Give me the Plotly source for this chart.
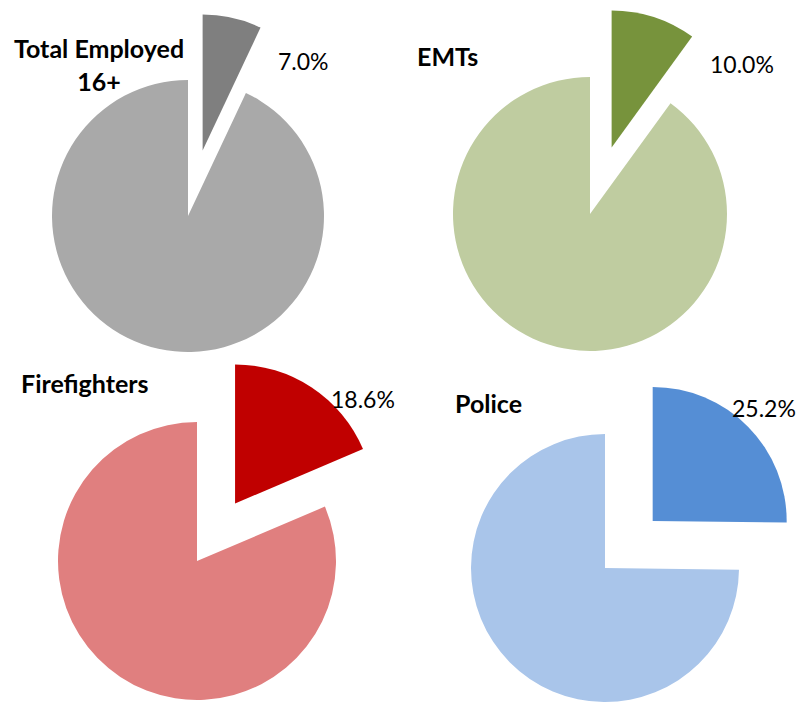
import math
import plotly.graph_objects as go

# ---- data ----
titles = ["Total Employed<br>16+", "EMTs", "Firefighters", "Police"]
share = [7.0, 10.0, 18.6, 25.2]          # highlighted slice (%)
rest = [93.0, 90.0, 81.4, 74.8]          # remainder (%)
dark_colors = ["#7f7f7f", "#77933c", "#c00000", "#558ed5"]
light_colors = ["#a9a9a9", "#bfcca0", "#e07f7f", "#a9c5ea"]

# ---- layout geometry (screen pixels) ----
W, H = 805, 702
OFF = 8  # page body margin
centers = [(188, 216), (590, 214), (197, 561), (605, 568)]
radii = [136, 137, 139, 134]
pull_px = [67, 70, 69, 67]
title_pos = [(99, 64), (447, 56), (85, 383), (488, 403)]
label_pos = [(303, 61), (742, 64), (363, 399), (764, 408)]

FONT = "Lato"
CLEAR = "rgba(0,0,0,0)"


def dom(cx, cy, r):
    cx -= OFF
    cy -= OFF
    return dict(x=[max(0, (cx - r) / W), min(1, (cx + r) / W)],
                y=[max(0, 1 - (cy + r) / H), min(1, 1 - (cy - r) / H)])


fig = go.Figure()
for i in range(4):
    cx, cy = centers[i]
    r = radii[i]
    vals = [share[i], rest[i]]
    common = dict(values=vals, labels=["share", "rest"], sort=False,
                  direction="clockwise", rotation=0, textinfo="none",
                  showlegend=False, hoverinfo="skip")
    # base pie (remainder)
    fig.add_trace(go.Pie(domain=dom(cx, cy, r),
                         marker=dict(colors=[CLEAR, light_colors[i]], line=dict(width=0)),
                         **common))
    # exploded slice, shifted along its bisector
    half = share[i] / sum(vals) * math.pi  # half angle in radians
    dx = pull_px[i] * math.sin(half)
    dy = -pull_px[i] * math.cos(half)
    fig.add_trace(go.Pie(domain=dom(cx + dx, cy + dy, r),
                         marker=dict(colors=[dark_colors[i], CLEAR], line=dict(width=0)),
                         **common))

annotations = []
for i in range(4):
    tx, ty = title_pos[i]
    annotations.append(dict(text="<b>" + titles[i] + "</b>",
                            x=(tx - OFF) / W, y=1 - (ty - OFF) / H,
                            xref="paper", yref="paper", showarrow=False,
                            xanchor="center", yanchor="middle",
                            font=dict(family=FONT, size=25, color="#000000")))
    lx, ly = label_pos[i]
    annotations.append(dict(text=f"{share[i]:.1f}%",
                            x=(lx - OFF) / W, y=1 - (ly - OFF) / H,
                            xref="paper", yref="paper", showarrow=False,
                            xanchor="center", yanchor="middle",
                            font=dict(family=FONT, size=23, color="#000000")))

fig.update_layout(width=W, height=H, margin=dict(l=0, r=0, t=0, b=0),
                  paper_bgcolor="white", plot_bgcolor="white",
                  annotations=annotations)
fig.write_html("out.html")
